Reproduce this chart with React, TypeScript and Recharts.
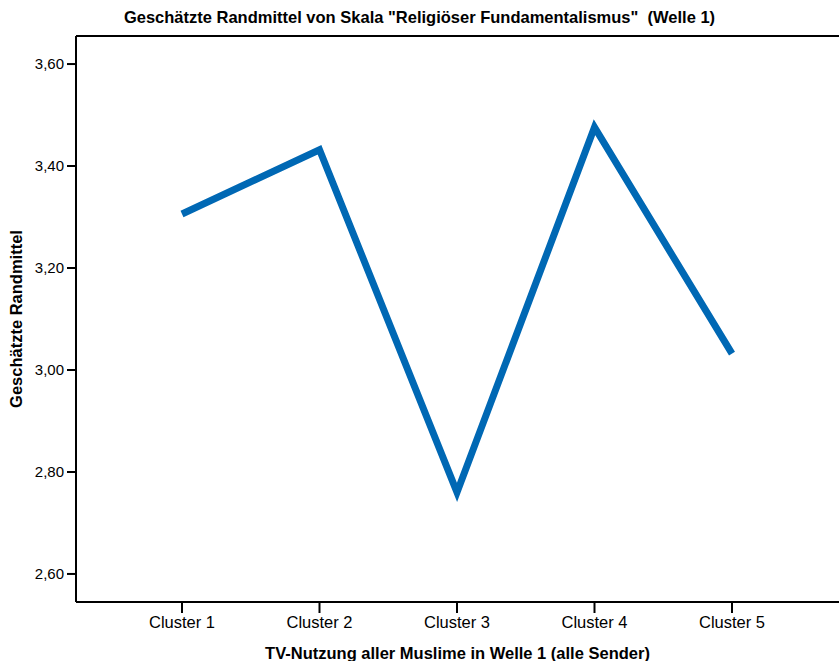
import React from "react";
import { LineChart, Line, XAxis, YAxis, ReferenceLine, Label } from "recharts";

const categories = ["Cluster 1", "Cluster 2", "Cluster 3", "Cluster 4", "Cluster 5"];
const means = [3.306, 3.432, 2.760, 3.476, 3.032];
const yTicks = [2.6, 2.8, 3.0, 3.2, 3.4, 3.6];
const yDomain = [2.545, 3.655];

const titleText = 'Geschätzte Randmittel von Skala "Religiöser Fundamentalismus"  (Welle 1)';
const xTitle = "TV-Nutzung aller Muslime in Welle 1 (alle Sender)";
const yTitle = "Geschätzte Randmittel";

const data = categories.map((c, i) => ({ name: c, value: means[i] }));

const FONT = '"Liberation Sans", Arial, sans-serif';

const YTitle = (props: any) => {
  const vb = props.viewBox || {};
  const cy = vb.y + vb.height / 2;
  const cx = 16;
  return (
    <text
      x={cx}
      y={cy}
      transform={`rotate(-90, ${cx}, ${cy})`}
      textAnchor="middle"
      dominantBaseline="central"
      fontFamily={FONT}
      fontWeight="bold"
      fontSize={16.5}
      fill="#000"
    >
      {yTitle}
    </text>
  );
};

export default function App() {
  return (
    <div style={{ position: "absolute", left: 0, top: 0, width: 839, height: 661, background: "#fff" }}>
      <div
        style={{
          position: "absolute",
          left: 0,
          top: 6,
          width: 839,
          textAlign: "center",
          fontFamily: FONT,
          fontWeight: "bold",
          fontSize: 16.5,
          lineHeight: "22px",
          whiteSpace: "pre",
          color: "#000",
        }}
      >
        {titleText}
      </div>
      <LineChart width={839} height={661} data={data} margin={{ top: 36, right: 0, bottom: 0, left: 0 }}>
        <XAxis
          dataKey="name"
          height={59}
          padding={{ left: 106, right: 107 }}
          axisLine={{ stroke: "#000", strokeWidth: 2 }}
          tickLine={{ stroke: "#000", strokeWidth: 2 }}
          tickSize={11}
          tickMargin={3}
          tick={{ fill: "#000", fontSize: 16.5, fontFamily: FONT }}
          interval={0}
        >
          <Label
            value={xTitle}
            position="insideBottom"
            offset={2}
            style={{ fontFamily: FONT, fontWeight: "bold", fontSize: 16.5, fill: "#000" }}
          />
        </XAxis>
        <YAxis
          width={76}
          domain={yDomain}
          ticks={yTicks}
          allowDataOverflow
          tickFormatter={(v: number) => v.toFixed(2).replace(".", ",")}
          axisLine={{ stroke: "#000", strokeWidth: 2 }}
          tickLine={{ stroke: "#000", strokeWidth: 2 }}
          tickSize={9}
          tickMargin={3}
          tick={{ fill: "#000", fontSize: 15, fontFamily: FONT }}
        >
          <Label content={<YTitle />} />
        </YAxis>
        <ReferenceLine y={yDomain[1]} stroke="#000" strokeWidth={2} />
        <Line
          type="linear"
          dataKey="value"
          stroke="#0068b4"
          strokeWidth={7}
          strokeLinejoin="miter"
          strokeLinecap="butt"
          dot={false}
          activeDot={false}
          isAnimationActive={false}
        />
      </LineChart>
    </div>
  );
}
